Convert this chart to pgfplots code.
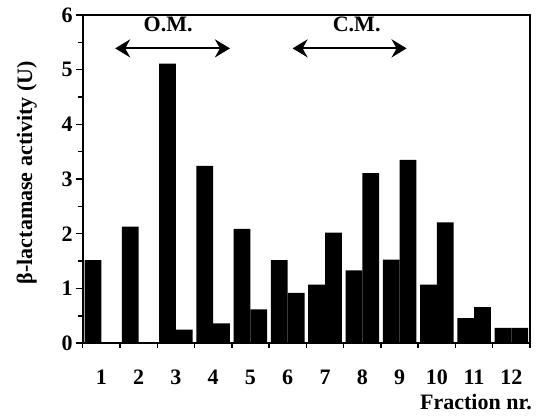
\documentclass[border=0pt]{standalone}
\usepackage{fontspec}
\setmainfont{Liberation Serif}
\usepackage{pgfplots}
\pgfplotsset{compat=1.18}
\usetikzlibrary{arrows.meta}

\newcommand{\chartfont}{\fontsize{22}{26}\selectfont\bfseries}

\begin{document}
\begin{tikzpicture}
\begin{axis}[
  scale only axis, width=447pt, height=328pt,
  xmin=0.5, xmax=12.5, ymin=0, ymax=6,
  xtick={1,...,12}, minor xtick={0.5,1.5,...,12.5},
  ytick={0,...,6}, minor ytick={0.5,1.5,...,5.5},
  tick align=outside, xtick pos=bottom, ytick pos=left,
  major tick length=7pt, minor tick length=5pt,
  major x tick style={draw=none},
  every tick/.style={black, line width=1.4pt},
  axis line style={line width=1.6pt},
  tick label style={font=\chartfont},
  /pgf/number format/assume math mode=true,
  xticklabel style={anchor=base, inner sep=0pt, yshift=-34pt},
  yticklabel style={inner sep=3pt},
  label style={font=\chartfont},
  xlabel={Fraction nr.},
  xlabel style={at={(rel axis cs:1,0)}, anchor=base east, inner sep=0pt, yshift=-66pt, xshift=2pt},
  ylabel={β-lactamase activity (U)},
  ylabel style={at={([xshift=-56pt]rel axis cs:0,0.52)}, anchor=center, inner sep=0pt},
]
% left bar of each fraction
\addplot[ybar, bar width=0.45, bar shift=0pt, fill=black, draw=none] coordinates {
  (0.775,1.52) (1.775,2.13) (2.775,5.11) (3.775,3.24) (4.775,2.09) (5.775,1.52)
  (6.775,1.07) (7.775,1.33) (8.775,1.53) (9.775,1.07) (10.775,0.46) (11.775,0.28)};
% right bar of each fraction
\addplot[ybar, bar width=0.45, bar shift=0pt, fill=black, draw=none] coordinates {
  (1.225,0) (2.225,0) (3.225,0.25) (4.225,0.36) (5.225,0.62) (6.225,0.92)
  (7.225,2.02) (8.225,3.11) (9.225,3.35) (10.225,2.21) (11.225,0.66) (12.225,0.28)};

\draw[{Stealth[length=15pt,width=18pt,inset=5pt]}-{Stealth[length=15pt,width=18pt,inset=5pt]}, line width=2.2pt]
  (axis cs:1.37,5.39) -- (axis cs:4.45,5.39);
\draw[{Stealth[length=15pt,width=18pt,inset=5pt]}-{Stealth[length=15pt,width=18pt,inset=5pt]}, line width=2.2pt]
  (axis cs:6.13,5.39) -- (axis cs:9.19,5.39);
\node[font=\chartfont] at (axis cs:2.79,5.82) {O.M.};
\node[font=\chartfont] at (axis cs:7.85,5.82) {C.M.};
\end{axis}
\path ([xshift=-82.7pt,yshift=-73pt]current axis.south west) rectangle ([xshift=10pt,yshift=15pt]current axis.north east);
\end{tikzpicture}
\end{document}
